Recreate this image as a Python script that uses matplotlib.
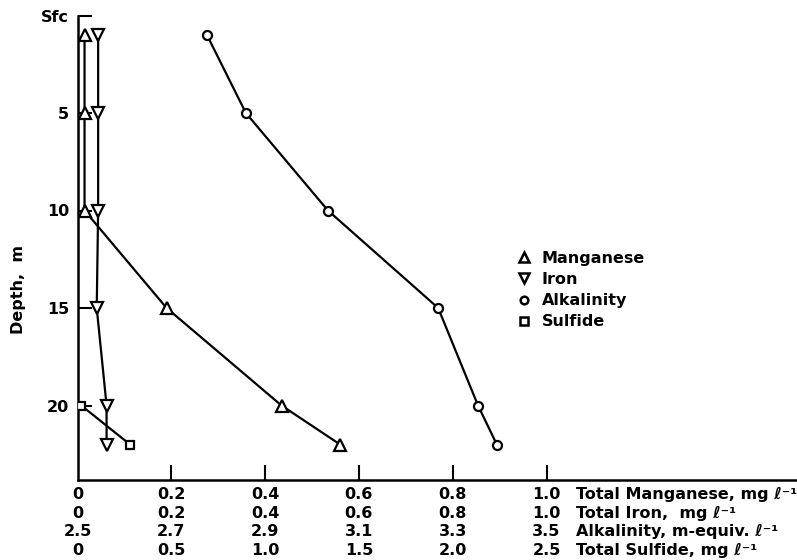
import matplotlib
matplotlib.use("Agg")
import matplotlib.pyplot as plt
from matplotlib.lines import Line2D

# ---- data ----
depth = [1, 5, 10, 15, 20, 22]
manganese = [0.015, 0.015, 0.015, 0.19, 0.435, 0.56]      # mg/l
iron = [0.044, 0.044, 0.044, 0.041, 0.062, 0.062]        # mg/l
alkalinity = [2.776, 2.859, 3.034, 3.269, 3.354, 3.394]  # m-equiv/l
sulfide_depth = [20, 22]
sulfide = [0.02, 0.28]                                   # mg/l

depth_ticks = [0, 5, 10, 15, 20]
depth_labels = ["Sfc", "5", "10", "15", "20"]

x_ticks = [0, 0.2, 0.4, 0.6, 0.8, 1.0]
mn_labels = ["0", "0.2", "0.4", "0.6", "0.8", "1.0"]
fe_labels = ["0", "0.2", "0.4", "0.6", "0.8", "1.0"]
alk_labels = ["2.5", "2.7", "2.9", "3.1", "3.3", "3.5"]
s_labels = ["0", "0.5", "1.0", "1.5", "2.0", "2.5"]
row_names = ["Total Manganese, mg ℓ⁻¹", "Total Iron,  mg ℓ⁻¹",
             "Alkalinity, m-equiv. ℓ⁻¹", "Total Sulfide, mg ℓ⁻¹"]

# scale conversions onto the common 0-1 axis
alk_min, alk_span = 2.5, 1.0
s_span = 2.5

plt.rcParams['font.family'] = ['DejaVu Sans']
FS = 11.5
LS = 1.3
W, H = 797, 560
fig = plt.figure(figsize=(W / 100, H / 100), dpi=100)
fig.patch.set_facecolor("white")

left_px, right_px, top_px, bot_px = 77.5, 797, 15.5, 480
ax = fig.add_axes([left_px / W, 1 - bot_px / H, (right_px - left_px) / W, (bot_px - top_px) / H])
ax.set_xlim(0, (right_px - left_px) / 469.0)
ax.set_ylim((bot_px - top_px) / 19.5, 0)

for s in ["top", "right"]:
    ax.spines[s].set_visible(False)
for s in ["left", "bottom"]:
    ax.spines[s].set_linewidth(1.8)

mk = dict(color="black", lw=1.6, markerfacecolor="white", markeredgecolor="black",
          markeredgewidth=1.6)
ax.plot(manganese, depth, marker="^", ms=9, zorder=3, **mk)
ax.plot(iron, depth, marker="v", ms=9, zorder=3, **mk)
ax.plot([(a - alk_min) / alk_span for a in alkalinity], depth, marker="o", ms=6.5, zorder=3, **mk)
ax.plot([v / s_span for v in sulfide], sulfide_depth, marker="s", ms=6, zorder=3, **mk)

ax.set_yticks(depth_ticks)
ax.set_yticklabels(depth_labels, fontsize=FS, fontweight="bold")
ax.tick_params(axis="y", direction="in", length=10, width=1.5, pad=6)

xt_labels = ["\n".join(r) for r in zip(mn_labels, fe_labels, alk_labels, s_labels)]
ax.set_xticks(x_ticks)
ax.set_xticklabels(xt_labels, fontsize=FS, fontweight="bold", linespacing=LS)
ax.tick_params(axis="x", direction="in", length=11, width=1.5, pad=5)
xticks = ax.xaxis.get_major_ticks()
xticks[0].tick1line.set_visible(False)

fig.text(576 / W, 1 - (bot_px + 5 * 100 / 72) / H, "\n".join(row_names),
         ha="left", va="top", fontsize=FS, fontweight="bold", linespacing=LS)

fig.text(19 / W, 1 - 290 / H, "Depth,  m", rotation=90, ha="center", va="center",
         fontsize=FS, fontweight="bold")

handles = [Line2D([], [], ls="none", marker=m, ms=ms, markerfacecolor="white",
                  markeredgecolor="black", markeredgewidth=1.8)
           for m, ms in [("^", 7), ("v", 7), ("o", 5.5), ("s", 5.5)]]
leg = fig.legend(handles, ["Manganese", "Iron", "Alkalinity", "Sulfide"],
                 loc="upper left", bbox_to_anchor=(516 / W, 1 - 251 / H),
                 frameon=False, handlelength=1.0, handletextpad=0.6, labelspacing=0.38,
                 borderpad=0, borderaxespad=0,
                 prop=dict(size=FS, weight="bold"))

fig.savefig("out.png", dpi=100, facecolor="white")
